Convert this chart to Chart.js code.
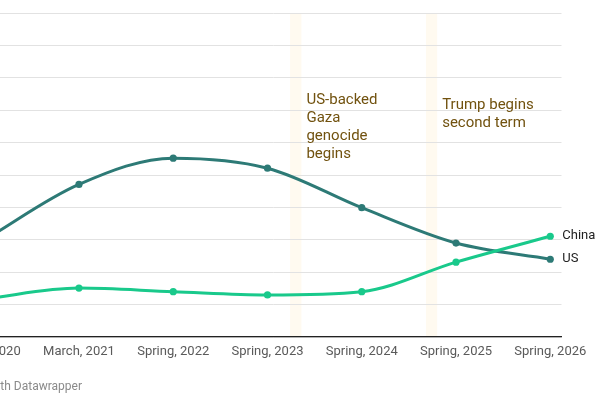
<!DOCTYPE html>
<html><head><meta charset="utf-8">
<script src="https://cdn.jsdelivr.net/npm/chart.js@4"></script>
<style>
html,body{margin:0;padding:0;background:#fff;}
#wrap{position:relative;width:600px;height:400px;overflow:hidden;}
#c{position:absolute;left:-80px;top:0;}
#credit{position:absolute;right:518px;top:379px;white-space:nowrap;font:12px Roboto,sans-serif;color:#8a8a8a;}
</style></head><body>
<div id="wrap"><canvas id="c" width="680" height="400"></canvas><div id="credit">Chart: Created with Datawrapper</div></div>
<script>
const categories = ['Spring, 2020','March, 2021','Spring, 2022','Spring, 2023','Spring, 2024','Spring, 2025','Spring, 2026'];
const usValues = [30.0, 47.1, 55.2, 52.1, 39.9, 29.0, 24.0];
const chinaValues = [11.8, 15.1, 14.0, 13.0, 14.0, 23.1, 31.1];
const seriesNames = ['China', 'US'];
const yTickValues = [0, 10, 20, 30, 40, 50, 60, 70, 80, 90, 100];
const highlightStarts = [3.24, 4.682];
const highlightEnds = [3.36, 4.80];
const annotationTexts = [['US-backed','Gaza','genocide','begins'], ['Trump begins','second term']];
const annotationY = [73.15, 71.6];

const US_COLOR = '#2d7a76';
const CN_COLOR = '#19c98b';

const overlay = {
  id: 'overlay',
  beforeDraw(chart) {
    const {ctx, chartArea, scales} = chart;
    ctx.save();
    ctx.fillStyle = '#fffaf0';
    highlightStarts.forEach((s, i) => {
      const x0 = scales.x.getPixelForValue(s);
      const x1 = scales.x.getPixelForValue(highlightEnds[i]);
      ctx.fillRect(x0, chartArea.top, x1 - x0, chartArea.bottom - chartArea.top);
    });
    ctx.restore();
  },
  afterDatasetsDraw(chart) {
    const {ctx, scales} = chart;
    ctx.save();
    ctx.font = '15px Roboto, sans-serif';
    ctx.fillStyle = '#71520f';
    ctx.textBaseline = 'middle';
    ctx.textAlign = 'left';
    annotationTexts.forEach((lines, i) => {
      const x = scales.x.getPixelForValue(highlightEnds[i]) + 5;
      const y = scales.y.getPixelForValue(annotationY[i]);
      lines.forEach((t, j) => ctx.fillText(t, x, y + j * 18));
    });
    ctx.font = '13px Roboto, sans-serif';
    ctx.fillStyle = '#222';
    chart.data.datasets.forEach((ds, i) => {
      const meta = chart.getDatasetMeta(i);
      const pt = meta.data[meta.data.length - 1];
      ctx.fillText(ds.label, pt.x + 12, pt.y);
    });
    ctx.restore();
  }
};

new Chart(document.getElementById('c'), {
  type: 'line',
  data: {
    datasets: [
      {
        label: seriesNames[0],
        data: chinaValues.map((v, i) => ({x: i, y: v})),
        borderColor: CN_COLOR, backgroundColor: CN_COLOR,
        pointBackgroundColor: CN_COLOR, pointBorderColor: CN_COLOR,
        borderWidth: 3, pointRadius: 3.6, pointBorderWidth: 0,
        cubicInterpolationMode: 'monotone', clip: false
      },
      {
        label: seriesNames[1],
        data: usValues.map((v, i) => ({x: i, y: v})),
        borderColor: US_COLOR, backgroundColor: US_COLOR,
        pointBackgroundColor: US_COLOR, pointBorderColor: US_COLOR,
        borderWidth: 3, pointRadius: 3.6, pointBorderWidth: 0,
        cubicInterpolationMode: 'monotone', clip: false
      }
    ]
  },
  options: {
    responsive: false,
    animation: false,
    layout: { padding: { left: 64.7, right: 38.5, top: 13, bottom: 0 } },
    plugins: { legend: { display: false }, tooltip: { enabled: false } },
    scales: {
      x: {
        type: 'linear',
        min: 0,
        max: 6.119,
        offset: false,
        afterBuildTicks: (scale) => { scale.ticks = categories.map((_, i) => ({value: i})); },
        afterFit: (scale) => { scale.height = 63; },
        ticks: {
          callback: (v) => categories[v] ?? '',
          color: '#5a5a5a',
          font: { family: 'Roboto', size: 13 },
          padding: 7,
          maxRotation: 0,
          autoSkip: false
        },
        grid: { display: false, drawTicks: false },
        border: { display: true, color: '#222', width: 1.3 }
      },
      y: {
        min: 0,
        max: 100,
        afterBuildTicks: (scale) => { scale.ticks = yTickValues.map(v => ({value: v})); },
        ticks: { display: false },
        grid: { color: '#e2e2e2', lineWidth: 1, drawTicks: false },
        border: { display: false }
      }
    }
  },
  plugins: [overlay]
});
</script>
</body></html>
